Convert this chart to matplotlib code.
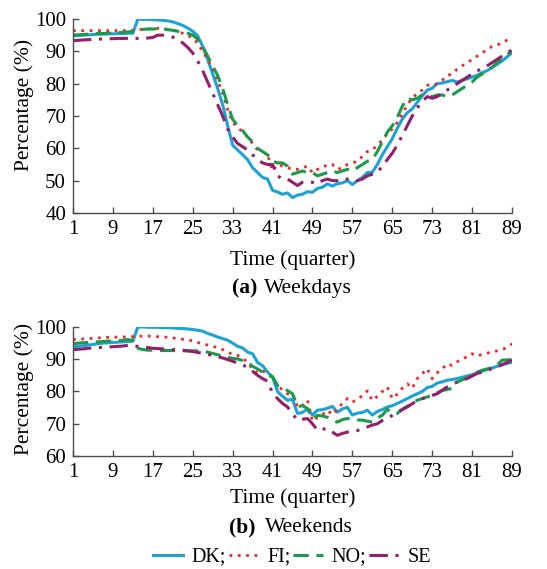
import matplotlib
matplotlib.use("Agg")
import matplotlib.pyplot as plt
import numpy as np

plt.rcParams['font.family'] = ['Liberation Serif', 'DejaVu Serif']

quarters = list(range(1, 90))
xticks = [1, 9, 17, 25, 33, 41, 49, 57, 65, 73, 81, 89]

# ---- Weekdays ----
dk_wd = [94.8, 94.9, 95.0, 95.1, 95.2, 95.3, 95.3, 95.4, 95.4, 95.5, 95.5, 95.6, 95.6,
         100.0, 99.9, 99.9, 99.8, 99.7, 99.6, 99.4, 99.1, 98.6, 98.0, 97.2, 96.2,
         94.8, 91.5, 87.5, 83.0, 78.5, 73.5, 67.0, 61.0,
         59.5, 58.0, 56.5, 54.0, 52.5, 51.0, 50.5, 47.0,
         46.5, 45.8, 46.2, 44.8, 45.5, 45.8, 46.6, 46.4,
         47.6, 48.0, 49.0, 48.3, 49.1, 49.3, 50.0, 48.8,
         50.0, 51.0, 52.5, 52.6, 55.0, 58.0, 60.5, 63.0,
         66.2, 69.0, 71.0, 72.2, 74.2, 76.2, 78.0, 78.6,
         80.0, 80.2, 80.6, 81.0, 80.5, 81.0, 81.5, 82.0,
         82.6, 83.4, 84.0, 85.0, 86.0, 87.0, 88.3, 89.6]
fi_wd = [96.4, 96.4, 96.4, 96.4, 96.4, 96.4, 96.4, 96.4, 96.4, 96.4, 96.4, 96.5, 96.5,
         96.7, 96.8, 96.9, 97.0, 97.1, 97.0, 96.8, 96.5, 96.1, 95.6, 95.0, 94.0,
         92.5, 90.0, 87.5, 84.5, 81.0, 77.0, 72.0, 68.0,
         66.5, 65.0, 63.5, 61.5, 59.5, 59.0, 58.0, 53.0,
         55.0, 54.5, 54.0, 53.5, 53.5, 54.0, 54.5, 52.5,
         53.5, 54.0, 55.0, 55.0, 53.5, 54.0, 55.0, 55.5,
         56.0, 57.5, 59.0, 59.5, 61.0, 62.5, 64.5, 66.0,
         68.0, 70.5, 73.5, 75.5, 77.0, 78.0, 79.5, 79.5,
         80.0, 81.0, 82.5, 83.0, 84.5, 85.5, 86.5, 87.5,
         88.5, 89.5, 90.5, 91.5, 92.0, 92.5, 93.5, 94.5]
no_wd = [95.0, 95.1, 95.2, 95.3, 95.4, 95.5, 95.5, 95.6, 95.7, 95.8, 95.9, 96.0, 96.2,
         96.6, 96.8, 96.9, 96.9, 97.0, 96.9, 96.7, 96.5, 96.2, 96.0, 95.6, 95.0,
         93.8, 91.5, 88.5, 85.5, 82.5, 78.5, 73.5, 69.0,
         67.0, 65.5, 63.5, 62.0, 60.0, 59.0, 58.0, 56.0,
         55.5, 55.5, 54.5, 52.0, 52.5, 53.0, 52.5, 52.5,
         51.5, 52.0, 52.5, 53.0, 52.5, 53.0, 53.5, 53.0,
         54.0, 55.0, 56.0, 56.5, 59.0, 62.0, 65.0, 67.0,
         69.5, 73.0, 75.5, 75.0, 75.5, 76.5, 76.5, 76.0,
         76.5, 76.5, 76.0, 76.5, 77.5, 78.5, 79.5, 80.5,
         82.0, 83.0, 84.0, 85.0, 86.5, 87.5, 89.0, 90.0]
se_wd = [93.3, 93.4, 93.5, 93.6, 93.7, 93.8, 93.8, 93.9, 93.9, 94.0, 94.0, 94.0, 94.0,
         94.0, 94.0, 94.1, 94.3, 95.0, 95.0, 94.6, 94.4, 93.6, 92.6, 91.2, 89.5,
         87.0, 84.0, 80.5, 77.0, 73.5, 70.0, 66.0, 63.5,
         61.5, 60.5, 59.5, 58.0, 56.5, 55.5, 55.0, 55.0,
         51.5, 50.5, 50.5, 49.5, 48.5, 49.5, 49.5, 49.5,
         49.0, 50.0, 50.5, 50.0, 50.0, 50.5, 50.5, 50.5,
         50.0, 50.5, 51.5, 52.0, 52.5, 54.5, 56.5, 58.5,
         61.0, 64.0, 67.0, 70.0, 72.5, 74.5, 76.0, 75.5,
         76.0, 77.0, 78.0, 79.0, 80.0, 81.0, 82.0, 83.0,
         84.0, 84.5, 85.5, 86.5, 87.5, 88.5, 89.5, 90.5]

# ---- Weekends ----
dk_we = [93.8, 94.0, 94.2, 94.4, 94.6, 94.8, 95.0, 95.1, 95.2, 95.3, 95.4, 95.5, 95.6,
         100.0, 100.0, 99.9, 99.9, 99.9, 99.8, 99.8, 99.7, 99.6, 99.5, 99.4, 99.2,
         99.0, 98.7, 98.0, 97.5, 96.9, 96.4, 95.9, 95.0,
         94.0, 93.5, 92.2, 91.7, 89.0, 88.0, 86.0, 84.5,
         80.0, 78.5, 77.3, 77.6, 73.2, 73.5, 74.6, 72.7,
         74.2, 74.4, 74.8, 75.4, 73.6, 74.6, 75.1, 72.7,
         73.3, 73.5, 74.2, 72.7, 73.8, 74.4, 75.2, 75.6,
         76.3, 77.0, 77.8, 78.6, 79.3, 80.0, 81.2, 81.6,
         82.6, 83.0, 83.5, 83.7, 84.0, 84.4, 84.8, 85.2,
         85.8, 86.3, 86.8, 87.3, 87.8, 88.3, 88.7, 89.1]
fi_we = [96.1, 96.2, 96.3, 96.4, 96.5, 96.6, 96.7, 96.8, 96.8, 96.9, 96.9, 97.0, 97.0,
         97.1, 97.2, 97.2, 97.1, 97.0, 96.9, 96.8, 96.6, 96.4, 96.2, 96.0, 95.7,
         95.2, 94.8, 94.4, 94.0, 93.6, 93.0, 92.2, 91.5,
         91.2, 90.4, 89.0, 87.0, 85.8, 86.5, 85.2, 84.5,
         81.8, 80.5, 79.3, 79.3, 75.2, 75.6, 77.3, 70.8,
         72.0, 72.8, 74.2, 72.8, 74.5, 76.3, 77.8, 76.7,
         77.6, 78.7, 80.2, 77.2, 78.5, 80.0, 81.4, 77.8,
         79.2, 81.0, 82.4, 81.0, 84.0, 85.5, 87.1, 84.0,
         85.8, 87.0, 88.6, 88.1, 89.2, 90.2, 90.7, 91.7,
         91.0, 91.5, 91.9, 92.2, 92.6, 93.0, 93.6, 94.8]
no_we = [94.8, 95.0, 95.1, 95.2, 95.3, 95.4, 95.5, 95.6, 95.7, 95.8, 95.9, 96.1, 95.8,
         93.4, 93.0, 92.8, 92.8, 92.7, 92.7, 92.7, 92.7, 92.6, 92.6, 92.6, 92.6,
         92.6, 92.4, 92.2, 91.8, 91.4, 91.0, 90.6, 90.3,
         90.1, 89.6, 89.1, 87.8, 87.0, 86.0, 85.2, 84.6,
         81.8, 81.2, 80.3, 79.3, 75.3, 75.6, 74.7, 71.6,
         72.6, 72.4, 72.0, 71.2, 70.5, 71.3, 71.6, 71.6,
         71.2, 71.1, 70.8, 70.5, 71.8, 72.6, 74.5, 73.3,
         73.2, 74.5, 75.4, 76.4, 77.3, 77.8, 78.3, 78.8,
         79.6, 80.3, 80.6, 81.0, 82.9, 83.6, 84.3, 85.2,
         86.0, 86.6, 87.0, 87.4, 88.2, 89.7, 89.8, 89.9]
se_we = [93.0, 93.1, 93.2, 93.4, 93.5, 93.6, 93.7, 93.8, 93.9, 94.0, 94.1, 94.3, 94.1,
         94.0, 93.8, 93.6, 93.4, 93.3, 93.2, 93.1, 93.0, 92.9, 92.8, 92.6, 92.4,
         92.1, 91.9, 91.5, 91.2, 90.8, 90.4, 89.9, 89.4,
         88.8, 88.2, 87.6, 86.3, 85.0, 84.0, 83.2, 79.5,
         77.8, 76.3, 75.2, 73.1, 71.1, 71.4, 71.6, 70.0,
         68.0, 68.3, 68.5, 67.4, 66.4, 67.0, 67.4, 67.8,
         67.9, 68.5, 69.0, 69.6, 70.0, 71.0, 71.6, 72.6,
         73.5, 74.4, 75.2, 76.2, 77.3, 77.8, 78.3, 78.8,
         79.3, 80.4, 81.4, 82.2, 82.9, 83.5, 84.0, 84.8,
         85.6, 86.0, 86.6, 87.1, 87.6, 88.3, 89.0, 89.7]

labels = ['DK;', 'FI;', 'NO;', 'SE']
colors = ['#1ba3d6', '#f0262a', '#1c9a4c', '#951d6e']
styles = [dict(linestyle='-', linewidth=2.2),
          dict(linestyle=(0, (1, 2)), linewidth=2.0),
          dict(linestyle=(0, (5, 2.5)), linewidth=2.2),
          dict(linestyle=(0, (6, 2.5, 1, 2.5)), linewidth=2.2)]

W, H = 547, 569
fig = plt.figure(figsize=(W / 100, H / 100), dpi=100)

def ax_rect(l, t, r, b):
    return [l / W, 1 - b / H, (r - l) / W, (b - t) / H]

ax1 = fig.add_axes(ax_rect(73, 19, 512, 213))
ax2 = fig.add_axes(ax_rect(73, 327, 512, 456))

spine_col = '#4d4d4d'
for ax, data, ylim, yt in [(ax1, [dk_wd, fi_wd, no_wd, se_wd], (40, 100), range(40, 101, 10)),
                           (ax2, [dk_we, fi_we, no_we, se_we], (60, 100), range(60, 101, 10))]:
    for series, lab, c, st in zip(data, labels, colors, styles):
        ax.plot(quarters, series, color=c, label=lab, **st)
    ax.set_xlim(1, 89)
    ax.set_ylim(*ylim)
    ax.set_xticks(xticks)
    ax.set_yticks(list(yt))
    for s in ['top', 'right']:
        ax.spines[s].set_visible(False)
    for s in ['left', 'bottom']:
        ax.spines[s].set_color(spine_col)
        ax.spines[s].set_linewidth(1.0)
    ax.tick_params(direction='in', length=4, width=1.0, color=spine_col,
                   labelsize=15, pad=5)
    for lbl in ax.get_xticklabels() + ax.get_yticklabels():
        lbl.set_clip_on(False)

fs = 15.5
fig.text(24 / W, 1 - 105 / H, 'Percentage (%)', rotation=90, ha='center', va='center', fontsize=fs)
fig.text(24 / W, 1 - 389 / H, 'Percentage (%)', rotation=90, ha='center', va='center', fontsize=fs)
fig.text(293 / W, 1 - 260 / H, 'Time (quarter)', ha='center', va='center', fontsize=fs)
fig.text(293 / W, 1 - 498 / H, 'Time (quarter)', ha='center', va='center', fontsize=fs)
fig.text(257 / W, 1 - 288 / H, '(a)', ha='right', va='center', fontsize=fs, fontweight='bold')
fig.text(264 / W, 1 - 288 / H, 'Weekdays', ha='left', va='center', fontsize=fs)
fig.text(256 / W, 1 - 527 / H, '(b)', ha='right', va='center', fontsize=fs, fontweight='bold')
fig.text(265 / W, 1 - 527 / H, 'Weekends', ha='left', va='center', fontsize=fs)

handles, labs = ax2.get_legend_handles_labels()
fig.legend(handles, labs, loc='center', bbox_to_anchor=(292 / W, 1 - 557 / H), ncol=4,
           frameon=False, fontsize=14.5, handlelength=1.5, handletextpad=0.4,
           columnspacing=0.15, borderaxespad=0, borderpad=0)

fig.savefig('out.png', dpi=100)
